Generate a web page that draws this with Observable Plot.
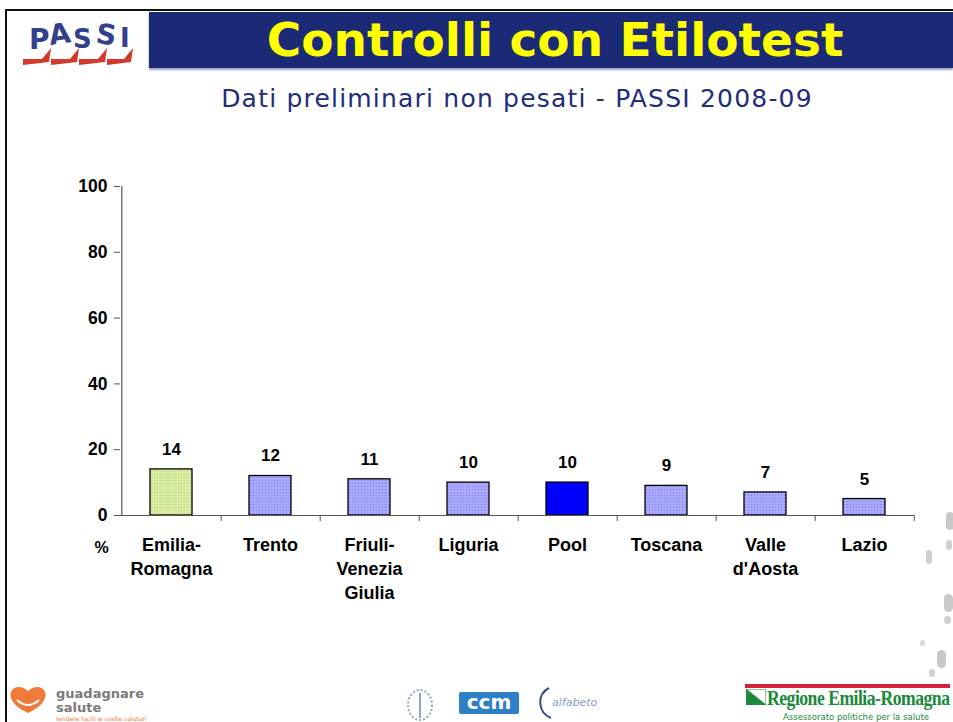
<!DOCTYPE html>
<html>
<head>
<meta charset="utf-8">
<script src="https://cdn.jsdelivr.net/npm/d3@7"></script>
<script src="https://cdn.jsdelivr.net/npm/@observablehq/plot@0.6"></script>
<style>
  html, body { margin: 0; padding: 0; background: #fff; }
  #page { position: relative; width: 953px; height: 722px; overflow: hidden; background: #fff; }
  .abs { position: absolute; }
  #topline { left: 5px; top: 9px; width: 948px; height: 2px; background: #111; }
  #leftline { left: 5px; top: 9px; width: 2px; height: 713px; background: #111; }
  #bar { left: 149px; top: 12px; width: 804px; height: 56px; background: #1b2a77; box-shadow: 0 2px 2px #9aa0c0; }
  #title { left: 157px; top: 12px; width: 796px; height: 56px; line-height: 56px; text-align: center;
    font-family: "DejaVu Sans", Verdana, sans-serif; font-weight: bold; font-size: 47px; color: #ffff00; white-space: nowrap; }
  #subtitle { left: 0; top: 84px; width: 1034px; text-align: center; font-family: "DejaVu Sans", Verdana, sans-serif;
    font-size: 25px; letter-spacing: 1.2px; color: #1f2d7a; white-space: nowrap; }
  #chart { left: 0; top: 170px; }
  .foot { font-family: "DejaVu Sans", sans-serif; white-space: nowrap; }
</style>
</head>
<body>
<svg width="0" height="0" style="position:absolute">
  <defs>
    <pattern id="dotsGreen" width="3" height="3" patternUnits="userSpaceOnUse">
      <rect width="3" height="3" fill="#d9eca0"></rect>
      <rect x="1" y="1" width="1" height="1" fill="#b9d486"></rect>
    </pattern>
    <pattern id="dotsBlue" width="3" height="3" patternUnits="userSpaceOnUse">
      <rect width="3" height="3" fill="#a8a8ff"></rect>
      <rect x="1" y="1" width="1" height="1" fill="#7f7fe8"></rect>
    </pattern>
  </defs>
</svg>
<div id="page">
  <div class="abs" id="topline"></div>
  <div class="abs" id="leftline"></div>
  <div class="abs" id="bar"></div>
  <div class="abs" id="title">Controlli con Etilotest</div>
  <!-- PASSI logo -->
  <svg class="abs" style="left:20px;top:14px" width="122" height="52">
    <g font-family="DejaVu Sans, sans-serif" font-size="28" font-weight="bold" fill="#33408a">
      <text x="9" y="35">P</text>
      <text x="29" y="30" transform="rotate(-8 37 22)">A</text>
      <text x="53" y="34" font-size="26">S</text>
      <text x="76" y="30" transform="rotate(8 84 22)">S</text>
      <text x="100" y="33" font-size="26">I</text>
    </g>
    <g fill="#d23a2a">
      <path d="M3,45 L22,45 L31,34 L29,48 L3,51 Z"></path>
      <path d="M31,45 L50,45 L59,34 L57,48 L31,51 Z"></path>
      <path d="M59,45 L78,45 L87,34 L85,48 L59,51 Z"></path>
      <path d="M87,45 L104,45 L113,34 L111,48 L87,51 Z"></path>
    </g>
  </svg>
  <div class="abs" id="subtitle">Dati preliminari non pesati - PASSI 2008-09</div>
  <div class="abs" id="chart"></div>

  <!-- footer -->
  <svg class="abs" style="left:9px;top:686px" width="38" height="30">
    <path d="M19,27 C4,20 0,12 2,6 C4,0 13,-1 19,5 C25,-1 34,0 36,6 C38,12 34,20 19,27 Z" fill="#f07a3a"></path>
    <path d="M8,14 Q19,24 30,14" stroke="#fff" stroke-width="2" fill="none"></path>
  </svg>
  <div class="abs foot" style="left:56px;top:687px;font-size:13px;line-height:13px;height:13px;color:#7a7a7a;font-weight:bold">guadagnare</div>
  <div class="abs foot" style="left:56px;top:701px;font-size:13px;line-height:13px;height:13px;color:#7a7a7a;font-weight:bold">salute</div>
  <div class="abs foot" style="left:56px;top:715px;font-size:6px;color:#f07a3a">rendere facili le scelte salutari</div>

  <svg class="abs" style="left:405px;top:688px" width="30" height="34">
    <ellipse cx="15" cy="17" rx="12" ry="15" fill="none" stroke="#8aa6c8" stroke-width="2" stroke-dasharray="2 2"></ellipse>
    <path d="M15,5 L15,30" stroke="#8aa6c8" stroke-width="2"></path>
  </svg>
  <div class="abs foot" style="left:459px;top:692px;width:60px;height:22px;background:#2f7fc8;color:#fff;font-weight:bold;font-size:20px;line-height:20px;text-align:center;border-radius:2px">ccm</div>
  <svg class="abs" style="left:535px;top:684px" width="70" height="36">
    <path d="M14,4 C2,10 2,28 16,34" stroke="#3a4a9a" stroke-width="2" fill="none"></path>
    <text x="17" y="22" font-size="11" fill="#8a9ad0" font-style="italic" font-family="DejaVu Sans">alfabeto</text>
  </svg>

  <div class="abs" style="left:745px;top:684px;width:205px;height:4px;background:#d2233a"></div>
  <svg class="abs" style="left:746px;top:689px" width="20" height="16">
    <path d="M0,0 L20,16 L0,16 Z" fill="#1a8a3a"></path>
    <path d="M0,0 L20,0 L20,16 Z" fill="#fff" stroke="#1a8a3a" stroke-width="1"></path>
  </svg>
  <div class="abs" style="left:767px;top:686px;font-family:'Liberation Serif',serif;font-size:21px;color:#1a8a3a;font-weight:bold;letter-spacing:-0.6px;transform:scaleX(0.84);transform-origin:left top;white-space:nowrap">Regione Emilia-Romagna</div>
  <div class="abs foot" style="left:783px;top:712px;font-size:8.5px;color:#1a8a3a">Assessorato politiche per la salute</div>

  <!-- decorative footprints -->
  <div class="abs" style="left:946px;top:512px;width:8px;height:18px;border-radius:4px;background:#c8c8c8"></div>
  <div class="abs" style="left:946px;top:540px;width:6px;height:10px;border-radius:3px;background:#d0d0d0"></div>
  <div class="abs" style="left:926px;top:550px;width:6px;height:14px;border-radius:3px;background:#d0d0d0"></div>
  <div class="abs" style="left:944px;top:594px;width:9px;height:18px;border-radius:5px;background:#c8c8c8"></div>
  <div class="abs" style="left:944px;top:616px;width:7px;height:8px;border-radius:4px;background:#d0d0d0"></div>
  <div class="abs" style="left:920px;top:640px;width:5px;height:6px;border-radius:3px;background:#d8d8d8"></div>
  <div class="abs" style="left:937px;top:650px;width:9px;height:18px;border-radius:5px;background:#c8c8c8"></div>
  <div class="abs" style="left:929px;top:669px;width:6px;height:8px;border-radius:3px;background:#d0d0d0"></div>
</div>

<script>
// ---- data ----
const categories = ["Emilia-Romagna", "Trento", "Friuli-Venezia Giulia", "Liguria", "Pool", "Toscana", "Valle d'Aosta", "Lazio"];
const tickLabels = ["Emilia-\nRomagna", "Trento", "Friuli-\nVenezia\nGiulia", "Liguria", "Pool", "Toscana", "Valle\nd'Aosta", "Lazio"];
const values = [14, 12, 11, 10, 10, 9, 7, 5];
const groups = ["region", "other", "other", "other", "pool", "other", "other", "other"];
const yTicks = [0, 20, 40, 60, 80, 100];

const data = categories.map((c, i) => ({category: c, value: values[i], group: groups[i], label: tickLabels[i]}));
const labelOf = new Map(data.map(d => [d.category, d.label]));

const W = 953, H = 450;
const mL = 120, mR = 38, mT = 16, mB = 105;
const step = (W - mL - mR) / categories.length;
const font = "'Liberation Sans', Arial, sans-serif";

const chart = Plot.plot({
  width: W,
  height: H,
  marginLeft: mL,
  marginRight: mR,
  marginTop: mT,
  marginBottom: mB,
  style: {fontFamily: font, fontSize: "17px", fontWeight: "bold", color: "#000", background: "transparent", overflow: "visible"},
  x: {domain: categories, paddingInner: 0.58, paddingOuter: 0.29, label: null},
  y: {domain: [0, 100], label: null},
  marks: [
    Plot.barY(data.filter(d => d.group === "region"), {x: "category", y: "value", fill: "url(#dotsGreen)", stroke: "#000", strokeWidth: 1.3}),
    Plot.barY(data.filter(d => d.group === "other"), {x: "category", y: "value", fill: "url(#dotsBlue)", stroke: "#000", strokeWidth: 1.3}),
    Plot.barY(data.filter(d => d.group === "pool"), {x: "category", y: "value", fill: "#0000ff", stroke: "#000", strokeWidth: 1.3}),
    Plot.text(data, {x: "category", y: "value", text: d => String(d.value), dy: -20, fontSize: 17, fontWeight: "bold", fill: "#000"}),
    // y axis
    Plot.axisY({ticks: yTicks, tickSize: 6, tickPadding: 7, stroke: "#555", strokeOpacity: 1, fill: "#000", fontSize: 17.5, fontWeight: "bold"}),
    Plot.ruleX([categories[0]], {dx: -step / 2, y1: 0, y2: 100, stroke: "#555", strokeWidth: 1.2}),
    // x axis line and category boundary ticks
    Plot.ruleY([0], {stroke: "#555", strokeWidth: 1.2}),
    Plot.axisX({tickSize: 6, dx: step / 2, tickFormat: () => "", stroke: "#555", strokeOpacity: 1}),
    Plot.axisX({tickSize: 0, tickPadding: 18, tickFormat: c => labelOf.get(c), lineHeight: 1.34, fill: "#000", fontSize: 18, fontWeight: "bold"}),
    Plot.text(["%"], {frameAnchor: "bottom-left", dx: -26, dy: 37, text: d => d, fontSize: 16, fontWeight: "bold", fill: "#000"})
  ]
});
document.getElementById("chart").appendChild(chart);
</script>
</body>
</html>
